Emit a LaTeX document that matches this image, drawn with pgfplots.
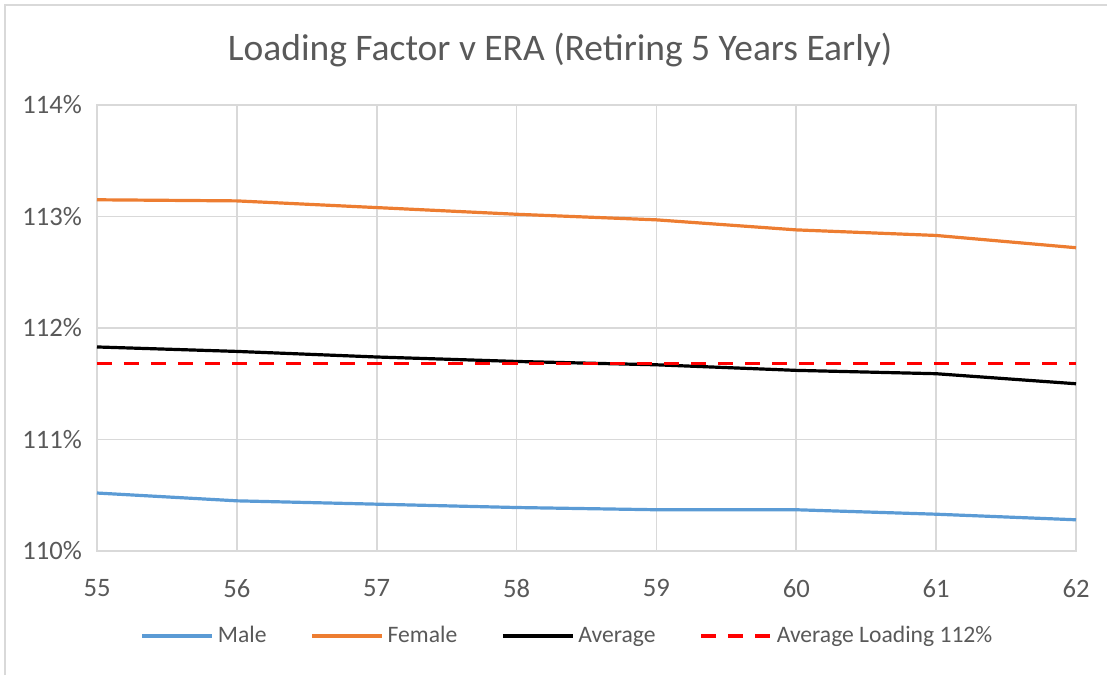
\documentclass[border=0pt]{standalone}
\usepackage{pgfplots}
\pgfplotsset{compat=1.18}
\usepackage{fontspec}
\setmainfont{Carlito}
\definecolor{txtgray}{HTML}{595959}
\definecolor{gridgray}{HTML}{D9D9D9}
\definecolor{maleblue}{HTML}{5B9BD5}
\definecolor{femorange}{HTML}{ED7D31}
\begin{document}
\begin{tikzpicture}
\useasboundingbox (-48.5pt,-62pt) rectangle (505pt,275.5pt);
\draw[gridgray, line width=1pt] (-46pt,-62pt) -- (-46pt,273pt) -- (505pt,273pt);
\begin{axis}[
  at={(0,0)}, anchor=origin,
  scale only axis, width=489.5pt, height=223pt,
  xmin=55, xmax=62, ymin=110, ymax=114,
  xtick={55,...,62}, ytick={110,111,112,113,114},
  yticklabel={\pgfmathprintnumber[fixed,precision=0]{\tick}\%},
  /pgf/number format/assume math mode=true,
  ticklabel style={font=\fontsize{13.3}{15}\selectfont, text=txtgray},
  yticklabel style={xshift=-4pt},
  xticklabel style={yshift=-10.5pt},
  major tick length=0pt,
  grid=major, grid style={gridgray, line width=0.8pt},
  axis line style={gridgray, line width=0.8pt},
  title={Loading Factor v ERA (Retiring 5 Years Early)},
  title style={font=\fontsize{18.75}{22}\selectfont, text=txtgray, at={(0.473,1)}, anchor=center, yshift=21.5pt},
  legend columns=4,
  legend style={at={(0.5,-42.5pt)}, anchor=center, xshift=-9pt, draw=none, fill=none,
    font=\fontsize{11.8}{13}\selectfont, text=txtgray,
    /tikz/every even column/.append style={column sep=20pt}},
  legend image code/.code={\draw[#1] (0pt,0pt) -- (35pt,0pt);},
]
\addplot[maleblue, line width=1.6pt] coordinates {(55,110.52) (56,110.45) (57,110.42) (58,110.39) (59,110.37) (60,110.37) (61,110.33) (62,110.28)};
\addlegendentry{Male}
\addplot[femorange, line width=1.6pt] coordinates {(55,113.15) (56,113.14) (57,113.08) (58,113.02) (59,112.97) (60,112.88) (61,112.83) (62,112.72)};
\addlegendentry{Female}
\addplot[black, line width=1.6pt] coordinates {(55,111.83) (56,111.79) (57,111.74) (58,111.70) (59,111.67) (60,111.62) (61,111.59) (62,111.50)};
\addlegendentry{Average}
\addplot[red, line width=1.6pt, dash pattern=on 7.5pt off 6pt] coordinates {(55,111.68) (56,111.68) (57,111.68) (58,111.68) (59,111.68) (60,111.68) (61,111.68) (62,111.68)};
\addlegendentry{Average Loading 112\%}
\end{axis}
\end{tikzpicture}
\end{document}
